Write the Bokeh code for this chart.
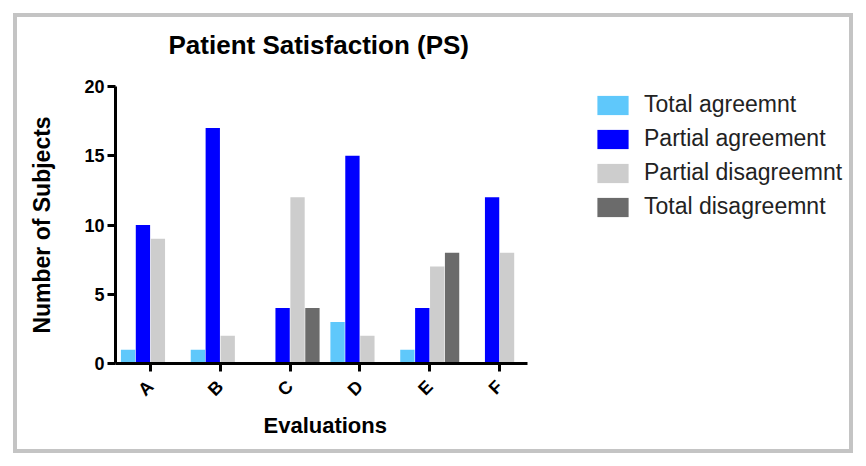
import math
from bokeh.plotting import figure
from bokeh.models import ColumnDataSource, Range1d, FixedTicker, Legend, LegendItem, Title
from bokeh.embed import file_html
from bokeh.resources import INLINE

categories = ["A", "B", "C", "D", "E", "F"]
series_names = ["Total agreemnt", "Partial agreement", "Partial disagreemnt", "Total disagreemnt"]
total_agreement = [1, 1, 0, 3, 1, 0]
partial_agreement = [10, 17, 4, 15, 4, 12]
partial_disagreement = [9, 2, 12, 2, 7, 8]
total_disagreement = [0, 0, 4, 0, 8, 0]
y_ticks = [0, 5, 10, 15, 20]

series_values = [total_agreement, partial_agreement, partial_disagreement, total_disagreement]
colors = ["#5fc8fb", "#0000ff", "#cdcdcd", "#6b6b6b"]
offsets = [-0.32, -0.107, 0.107, 0.32]

FONT = "Liberation Sans"
W, H = 866, 466
# axis box in pixels
AL, AR, AT, AB = 115, 527, 85, 363
# drawing frame (extends right of the axes so that the legend sits inside it)
FL, FR, FT, FB = 115, 849, 85, 363
X0, X1, Y0, Y1 = -0.5, 5.4, 0, 20
sx = (AR - AL) / (X1 - X0)

p = figure(width=W, height=H, output_backend="svg", toolbar_location=None,
           x_range=Range1d(X0, X1 + (FR - AR) / sx),
           y_range=Range1d(Y0, Y1),
           min_border_left=FL, min_border_right=W - FR,
           min_border_top=FT, min_border_bottom=H - FB,
           title="Patient Satisfaction (PS)")
p.outline_line_color = None
p.xgrid.visible = False
p.ygrid.visible = False
p.background_fill_alpha = 0
p.border_fill_alpha = 0
p.styles = {"background-color": "white",
            "box-shadow": "inset 0 0 0 13px white, inset 0 0 0 17px #c4c4c4"}

p.title.align = "left"
p.title.offset = 168 - FL
p.title.vertical_align = "bottom"
p.title.standoff = 54
p.title.text_font = FONT
p.title.text_font_style = "bold"
p.title.text_font_size = "26px"
p.title.text_color = "black"

xs = list(range(len(categories)))
items = []
for name, vals, col, off in zip(series_names, series_values, colors, offsets):
    src = ColumnDataSource(dict(x=[x + off for x in xs], top=vals))
    r = p.vbar(x="x", top="top", width=0.205, source=src, fill_color=col, line_color=None)
    items.append(LegendItem(label=name, renderers=[r]))

# axes
for ax in (p.xaxis[0], p.yaxis[0]):
    ax.axis_line_width = 3
    ax.axis_line_color = "black"
    ax.major_tick_line_width = 3
    ax.major_tick_line_color = "black"
    ax.major_tick_out = 8
    ax.major_tick_in = 0
    ax.minor_tick_line_color = None
    ax.major_label_text_font = FONT
    ax.major_label_text_font_style = "bold"
    ax.major_label_text_font_size = "18px"
    ax.major_label_text_color = "black"

p.yaxis.bounds = (Y0, Y1)
p.yaxis.ticker = FixedTicker(ticks=y_ticks)
p.yaxis.major_label_standoff = 3
p.yaxis.axis_label = "Number of Subjects"
p.yaxis.axis_label_text_font = FONT
p.yaxis.axis_label_text_font_style = "bold"
p.yaxis.axis_label_text_color = "black"
p.yaxis.axis_label_text_font_size = "23px"
p.yaxis.axis_label_standoff = 26

p.xaxis.bounds = (X0, X1)
p.xaxis.ticker = FixedTicker(ticks=xs)
p.xaxis.major_label_overrides = {i: c for i, c in enumerate(categories)}
p.xaxis.major_label_orientation = math.pi / 4
p.xaxis.major_label_standoff = 12

# x-axis title, centred under the axis (not under the wider frame)
p.add_layout(Title(text="Evaluations", align="left", offset=263 - FL, vertical_align="top",
                   standoff=6, text_font=FONT, text_font_style="bold",
                   text_font_size="22px", text_color="black"), "below")

legend = Legend(items=items, location=(593 - FL, FB - 220), orientation="vertical",
                glyph_width=39, glyph_height=24, label_height=24, label_standoff=12,
                spacing=7, padding=0, margin=0, border_line_color=None,
                background_fill_alpha=0,
                label_text_font=FONT, label_text_font_size="23px", label_text_color="#222222")
p.add_layout(legend, "center")

open("out.html", "w").write(file_html(p, INLINE))
